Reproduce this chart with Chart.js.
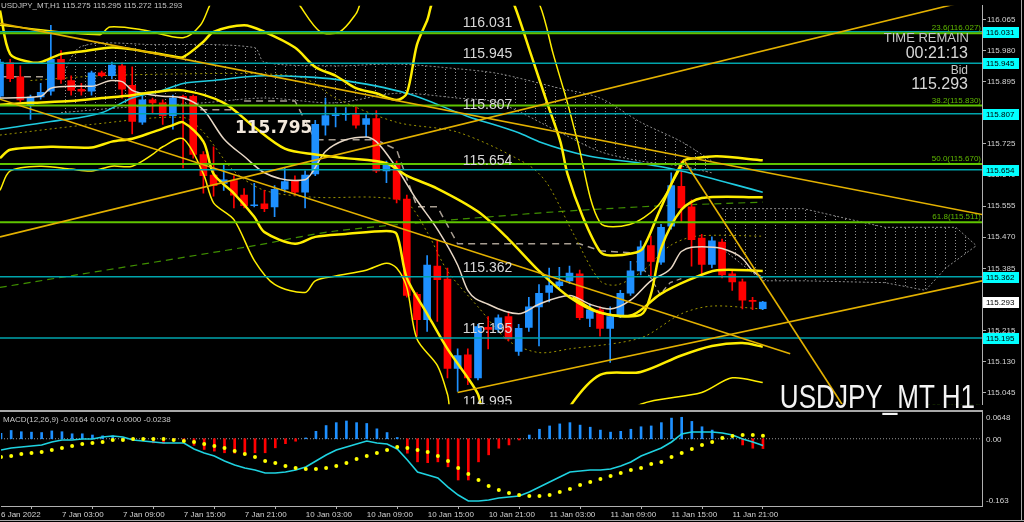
<!DOCTYPE html>
<html>
<head>
<meta charset="utf-8">
<title>USDJPY_MT H1</title>
<script src="https://cdn.jsdelivr.net/npm/chart.js@4.4.1/dist/chart.umd.min.js"></script>
<style>
  html, body { margin: 0; padding: 0; background: #000; }
  #wrap { position: relative; width: 1024px; height: 522px; overflow: hidden; background: #000;
          font-family: "Liberation Sans", Arial, sans-serif; }
  canvas { position: absolute; left: 0; }
  #priceChart { top: 0; }
  #macdChart { top: 412px; }
  .t { position: absolute; white-space: nowrap; color: #d0d0d0; line-height: 1; }
  .rule { position: absolute; background: #a8a8a8; }
</style>
</head>
<body>
<div id="wrap">
  <canvas id="priceChart" width="1024" height="410"></canvas>
  <canvas id="macdChart" width="1024" height="110"></canvas>
  <div class="rule" style="left:0;top:410px;width:983px;height:2px"></div>
  <div class="rule" style="left:0;top:520px;width:1024px;height:1px"></div>
  <div class="rule" style="left:1021px;top:0;width:1px;height:521px"></div>
  <div class="t" style="left:1px;top:2px;font-size:8px;color:#c8c8c8">USDJPY_MT,H1 115.275 115.295 115.272 115.293</div>
  <div class="t" style="left:3px;top:416px;font-size:8px;color:#c8c8c8">MACD(12,26,9) -0.0164 0.0074 0.0000 -0.0238</div>
  <div class="t" style="right:55px;top:31px;font-size:13px;color:#c8c8c8">TIME REMAIN</div>
  <div class="t" style="right:56px;top:45px;font-size:16px;color:#d8d8d8">00:21:13</div>
  <div class="t" style="right:56px;top:64px;font-size:12px;color:#c8c8c8">Bid</div>
  <div class="t" style="right:56px;top:76px;font-size:16px;color:#d8d8d8">115.293</div>
  <div class="t" style="right:49px;top:380px;font-size:33px;color:#f4f4f4;transform:scaleX(0.79);transform-origin:right top">USDJPY_MT H1</div>
</div>

<script>
// ---- candles (H1, 6 Jan 21:00 .. 12 Jan 00:00) ----
const open  = [115.855,115.946,115.908,115.832,115.853,115.869,115.956,115.898,115.874,115.869,
               115.919,115.911,115.938,115.885,115.784,115.845,115.837,115.802,115.855,115.855,
               115.696,115.640,115.617,115.625,115.585,115.556,115.561,115.553,115.601,115.625,
               115.593,115.643,115.776,115.802,115.805,115.805,115.778,115.794,115.651,115.670,
               115.574,115.314,115.245,115.391,115.356,115.112,115.149,115.086,115.224,115.218,
               115.253,115.158,115.224,115.280,115.319,115.338,115.351,115.370,115.248,115.272,
               115.221,115.253,115.317,115.378,115.447,115.402,115.500,115.609,115.553,115.468,
               115.396,115.457,115.370,115.348,115.296,115.275];
const high  = [115.956,115.956,115.938,115.858,115.890,116.049,115.980,115.911,115.890,115.924,
               115.924,115.948,115.946,115.935,115.855,115.850,115.845,115.858,115.858,115.858,
               115.704,115.717,115.667,115.638,115.603,115.617,115.598,115.611,115.659,115.638,
               115.651,115.789,115.850,115.824,115.824,115.826,115.805,115.816,115.678,115.678,
               115.585,115.319,115.420,115.460,115.386,115.165,115.165,115.232,115.253,115.258,
               115.266,115.232,115.306,115.341,115.386,115.388,115.391,115.380,115.285,115.280,
               115.280,115.325,115.404,115.460,115.473,115.505,115.646,115.678,115.572,115.478,
               115.471,115.465,115.380,115.356,115.306,115.295];
const low   = [115.847,115.895,115.840,115.792,115.847,115.858,115.890,115.858,115.858,115.858,
               115.908,115.903,115.850,115.752,115.778,115.810,115.778,115.765,115.659,115.686,
               115.590,115.582,115.598,115.550,115.550,115.553,115.540,115.526,115.593,115.585,
               115.550,115.638,115.749,115.771,115.789,115.768,115.744,115.646,115.619,115.564,
               115.306,115.200,115.213,115.240,115.086,115.049,115.067,115.080,115.165,115.210,
               115.187,115.147,115.213,115.173,115.293,115.333,115.343,115.245,115.226,115.200,
               115.128,115.250,115.311,115.367,115.364,115.396,115.492,115.513,115.391,115.367,
               115.386,115.359,115.325,115.274,115.272,115.272];
const close = [115.948,115.903,115.845,115.853,115.866,115.956,115.901,115.871,115.869,115.919,
               115.911,115.940,115.874,115.786,115.845,115.837,115.802,115.850,115.850,115.696,
               115.638,115.611,115.627,115.585,115.556,115.558,115.548,115.601,115.622,115.593,
               115.640,115.778,115.802,115.805,115.807,115.776,115.794,115.651,115.667,115.574,
               115.311,115.245,115.394,115.354,115.112,115.147,115.086,115.226,115.218,115.250,
               115.192,115.221,115.280,115.317,115.338,115.348,115.372,115.250,115.272,115.221,
               115.253,115.317,115.378,115.444,115.404,115.497,115.611,115.550,115.463,115.396,
               115.460,115.367,115.348,115.298,115.295,115.293];

// ---- indicator lines: [bar index, price] ----
const maSlow = [[0,115.765],[5,115.786],[10,115.810],[13,115.850],[16,115.871],[18,115.890],[21,115.898],
                [26,115.911],[30,115.908],[33,115.901],[40,115.863],[46,115.800],[51,115.755],[53,115.731],
                [58,115.691],[63,115.672],[67,115.651],[75,115.593]];
const maFast = [[0,115.850],[4,115.855],[5,115.877],[7,115.882],[9,115.882],[11,115.898],[12,115.895],
                [13,115.871],[14,115.863],[16,115.855],[18,115.850],[20,115.818],[22,115.739],[24,115.691],
                [26,115.646],[29,115.625],[30,115.627],[32,115.704],[34,115.736],[36,115.744],[37,115.731],
                [39,115.659],[41,115.571],[43,115.492],[45,115.394],[46,115.325],[48,115.287],[51,115.261],
                [53,115.287],[56,115.311],[58,115.287],[60,115.274],[62,115.298],[64,115.351],[66,115.386],
                [67,115.431],[69,115.444],[71,115.439],[73,115.412],[74,115.378],[75,115.359]];
const bandMidUp = [[0,115.832],[3,115.837],[7,115.842],[10,115.850],[13,115.858],[15,115.866],[18,115.871],
                   [22,115.837],[25,115.771],[28,115.712],[31,115.696],[34,115.686],[38,115.672],[40,115.638],
                   [43,115.603],[47,115.540],[50,115.465],[53,115.378],[56,115.306],[59,115.264],[63,115.258],
                   [64,115.314],[65,115.439],[67,115.545],[69,115.577],[75,115.579]];
const bandMid = [[56.3,115.306],[59,115.264],[62.2,115.258],[64.9,115.314],[67.8,115.354],[70.5,115.380],
                 [75,115.378]];
const bandLow = [[0,115.686],[1,115.709],[5,115.717],[9,115.715],[11,115.731],[13,115.739],[15,115.757],
                 [17,115.776],[18,115.784],[20,115.731],[21,115.643],[23,115.590],[25,115.526],[26,115.484],
                 [29,115.452],[31,115.471],[34,115.479],[38,115.487],[39,115.479],[40,115.359],[42,115.261],
                 [44,115.165],[46,115.086],[47,115.041],[48,114.961],[55,114.934],[56,115.006],[59,115.094],
                 [63,115.102],[67,115.147],[70,115.173],[73,115.181],[75,115.171]];
const bandLowOuter = [[0,115.598],[1,115.651],[4,115.664],[7,115.656],[9,115.651],[11,115.664],[13,115.664],
                      [15,115.696],[16,115.717],[18,115.739],[20,115.643],[21,115.564],[23,115.518],[25,115.407],
                      [27,115.341],[30,115.319],[31,115.351],[33,115.364],[36,115.380],[38,115.399],[39,115.386],
                      [40,115.333],[41,115.192],[43,115.120],[44,115.041],[45,114.934],[59,114.934],[63,115.014],
                      [69,115.046],[72,115.086],[75,115.073]];
const bandUp = [[0,116.089],[1,115.970],[3,115.948],[4,115.948],[6,115.970],[8,115.977],[11,115.988],
                [13,115.983],[17,115.964],[18,115.962],[20,116.004],[21,116.031],[24,116.049],[26,116.031],
                [29,115.988],[31,115.935],[33,115.911],[35,115.877],[37,115.863],[39,115.845],[40,115.863],
                [41,115.996],[42,116.062],[43,116.129],[50,116.129],[50.6,116.102],[52.2,115.970],[53.8,115.837],
                [55.1,115.731],[55.8,115.643],[57.3,115.526],[59,115.431],[60,115.420],[62.2,115.426],
                [63.2,115.439],[64.9,115.545],[67.2,115.678],[68.5,115.686],[70.5,115.691],[75,115.680]];
const bandUpOuter = [[0,116.049],[9.8,116.023],[10.8,116.044],[14.1,116.036],[18,116.015],[19.7,116.049],
                     [20.6,116.102],[21.1,116.129],[29,116.129],[29.5,116.102],[31.5,116.031],[33.4,116.031],
                     [35,116.080],[36,116.129],[52,116.129],[53.1,116.102],[54.4,115.970],[55.8,115.837],
                     [56.8,115.731],[59,115.510],[61.9,115.505],[64.6,115.553],[66.6,115.643],[67.2,115.678]];
const midDotted = [[3,115.898],[10,115.911],[18,115.916],[26,115.916],[30,115.903],[33,115.850],[39,115.784],
                   [45,115.757],[51.8,115.670],[53.8,115.617],[56.3,115.484],[59,115.351],[60.7,115.340],
                   [63.2,115.378],[65.9,115.447],[68.5,115.473],[75,115.473]];
const lowDotted = [[0,115.749],[9,115.778],[18,115.797],[20,115.757],[23,115.651],[26,115.598],[31,115.579],
                   [37,115.579],[40,115.564],[42,115.484],[44,115.378],[47,115.280],[50,115.187],[53,115.155],
                   [56,115.165],[63,115.195],[67,115.261],[70,115.282],[75,115.274]];
const slowDashed = [[0,115.333],[25,115.447],[33,115.487],[51,115.532],[63,115.553],[75,115.566]];
const kijun = [[0,115.908],[5.2,115.908],[5.3,null],[19.7,115.818],[22.9,115.818],[23,null],
               [24,115.842],[29,115.842],[31,115.736],[37,115.736],[39,115.709],[41,115.553],[43,115.553],
               [45,115.452],[57,115.452],[59,115.433],[63,115.426]];
const tenkan = [[62.6,115.404],[64,115.359],[64.9,115.314],[65.9,115.346],[67.2,115.359]];
const cloudTop = [[6,115.903],[8,115.991],[15,115.996],[25,115.988],[26,115.948],[33,115.938],[39,115.943],
                  [45,115.930],[49,115.917],[55,115.877],[59,115.850],[63,115.784],[67,115.731],[70,115.678]];
const cloudBottom = [[6,115.810],[12,115.824],[20,115.837],[26,115.850],[33,115.837],[39,115.863],[45,115.850],
                     [49,115.837],[55,115.757],[59,115.704],[63,115.678],[67,115.664],[70,115.646]];
const cloud2Top = [[71,115.548],[79,115.548],[87,115.497],[94,115.497],[96,115.447]];
const cloud2Bottom = [[71,115.439],[75,115.351],[79,115.351],[87,115.346],[91,115.325],[93,115.386],[96,115.447]];

// ---- objects ----
const levels = [116.031, 115.945, 115.807, 115.654, 115.362, 115.195];
const captions = ['116.031','115.945','115.807','115.654','115.362','115.195','114.995'];
const captionValues = [116.031, 115.945, 115.807, 115.654, 115.362, 115.195, 114.995];
const fiboLevels = [116.027, 115.830, 115.670, 115.511, 114.994];
const fiboText = ['23.6(116.027)','38.2(115.830)','50.0(115.670)','61.8(115.511)','100.0(114.994)'];
const trendLines = [
  [[0,116.054],[96.6,115.532]],
  [[0,115.847],[77.7,115.152]],
  [[0,115.471],[96.6,116.125]],
  [[45.0,115.046],[96.6,115.351]],
  [[67.2,115.683],[82.8,115.014]]
];
const priceTicks = [116.065,115.980,115.895,115.810,115.725,115.640,115.555,115.470,115.385,115.300,115.215,115.130,115.045];
const bid = 115.293;

// ---- MACD(12,26,9) ----
const macdMain = [-0.0273,-0.0224,-0.0200,-0.0176,-0.0152,-0.0079,-0.0031,-0.0031,-0.0006,-0.0006,
                  0.0042,0.0066,0.0042,-0.0031,-0.0055,-0.0079,-0.0103,-0.0103,-0.0103,-0.0249,
                  -0.0346,-0.0418,-0.0540,-0.0637,-0.0709,-0.0758,-0.0830,-0.0830,-0.0806,-0.0758,
                  -0.0685,-0.0540,-0.0394,-0.0273,-0.0200,-0.0128,-0.0055,-0.0103,-0.0128,-0.0249,
                  -0.0515,-0.0806,-0.0879,-0.0952,-0.1170,-0.1364,-0.1509,-0.1509,-0.1485,-0.1436,
                  -0.1412,-0.1388,-0.1291,-0.1170,-0.1049,-0.0927,-0.0806,-0.0782,-0.0758,-0.0758,
                  -0.0733,-0.0661,-0.0564,-0.0418,-0.0321,-0.0224,-0.0079,0.0115,0.0163,0.0163,
                  0.0163,0.0139,0.0091,-0.0006,-0.0079,-0.0164];
const macdSignal = [-0.0443,-0.0418,-0.0370,-0.0346,-0.0321,-0.0273,-0.0224,-0.0176,-0.0128,-0.0103,
                    -0.0079,-0.0031,-0.0031,-0.0006,-0.0006,-0.0006,-0.0006,-0.0031,-0.0055,-0.0079,
                    -0.0128,-0.0176,-0.0224,-0.0297,-0.0370,-0.0443,-0.0540,-0.0588,-0.0661,-0.0709,
                    -0.0733,-0.0733,-0.0709,-0.0661,-0.0588,-0.0491,-0.0418,-0.0346,-0.0273,-0.0200,
                    -0.0224,-0.0273,-0.0321,-0.0418,-0.0540,-0.0709,-0.0854,-0.0999,-0.1145,-0.1242,
                    -0.1315,-0.1364,-0.1388,-0.1388,-0.1364,-0.1291,-0.1218,-0.1121,-0.1049,-0.0976,
                    -0.0903,-0.0830,-0.0758,-0.0709,-0.0612,-0.0564,-0.0443,-0.0346,-0.0249,-0.0152,
                    -0.0079,0.0018,0.0066,0.0091,0.0091,0.0074];
const macdHist = [0.013,0.020,0.017,0.016,0.015,0.019,0.017,0.012,0.012,0.009,
                  0.007,0.007,0.002,0.0005,-0.0005,-0.010,-0.011,-0.005,-0.003,-0.016,
                  -0.026,-0.030,-0.034,-0.035,-0.034,-0.034,-0.034,-0.022,-0.012,-0.006,
                  0.002,0.018,0.032,0.039,0.043,0.039,0.037,0.024,0.015,0.003,
                  -0.035,-0.056,-0.058,-0.056,-0.068,-0.100,-0.100,-0.056,-0.039,-0.023,
                  -0.015,-0.003,0.009,0.023,0.031,0.036,0.039,0.033,0.028,0.021,
                  0.016,0.018,0.023,0.029,0.031,0.039,0.050,0.052,0.042,0.029,
                  0.021,0.005,0.000,-0.015,-0.023,-0.0238];
const macdTicks = [0.0648, 0, -0.163];
const timeTicks = [0, 6, 12, 18, 24, 30, 36, 42, 48, 54, 60, 66, 72];
const timeLabels = ['6 Jan 2022','7 Jan 03:00','7 Jan 09:00','7 Jan 15:00','7 Jan 21:00','10 Jan 03:00',
                    '10 Jan 09:00','10 Jan 15:00','10 Jan 21:00','11 Jan 03:00','11 Jan 09:00','11 Jan 15:00','11 Jan 21:00'];

const X_MAX = 96.56;
const UP = '#1e90ff', DOWN = '#ff0000';
const FONT = '"Liberation Sans", Arial, sans-serif';

// vertical dotted hatch like the MT4 cloud
const hatch = (() => {
  const c = document.createElement('canvas');
  c.width = 10; c.height = 3;
  const g = c.getContext('2d');
  g.fillStyle = '#909090';
  g.fillRect(5, 0, 1, 1);
  return g.createPattern(c, 'repeat');
})();

function line(pts, color, width, extra) {
  return Object.assign({
    type: 'line',
    data: pts.map(p => ({ x: p[0], y: p[1] })),
    borderColor: color, borderWidth: width,
    pointRadius: 0, fill: false, tension: 0.3
  }, extra || {});
}

const bars = open.map((_, i) => i);
const candleColor = bars.map(i => close[i] >= open[i] ? UP : DOWN);

const priceDatasets = [
  line(cloudTop, '#8c8c8c', 1, { borderDash: [2, 2], fill: '+1', backgroundColor: hatch, order: 30 }),
  line(cloudBottom, '#8c8c8c', 1, { borderDash: [2, 2], order: 29 }),
  line(cloud2Top, '#8c8c8c', 1, { borderDash: [2, 2], fill: '+1', backgroundColor: hatch, tension: 0, order: 28 }),
  line(cloud2Bottom, '#8c8c8c', 1, { borderDash: [2, 2], tension: 0, order: 27 }),
  line(slowDashed, '#3f8f00', 1.2, { borderDash: [7, 5], order: 26 }),
  line(kijun, '#a89e92', 1.5, { borderDash: [7, 5], tension: 0, order: 25 }),
  line(tenkan, '#a89e92', 1.2, { borderDash: [5, 4], tension: 0, order: 25 }),
  line(midDotted, '#9c9400', 1, { borderDash: [2, 3], order: 24 }),
  line(lowDotted, '#9c9400', 1, { borderDash: [2, 3], order: 24 }),
  {
    type: 'bar', order: 20, grouped: false, barThickness: 1,
    data: bars.map(i => ({ x: i, y: [low[i], high[i]] })),
    backgroundColor: candleColor
  },
  {
    type: 'bar', order: 19, grouped: false, barThickness: 7, minBarLength: 1,
    data: bars.map(i => ({ x: i, y: [open[i], close[i]] })),
    backgroundColor: candleColor
  },
  line(maSlow, '#1fcbe0', 1.6, { cubicInterpolationMode: 'monotone', order: 10 }),
  line(maFast, '#e8d8c6', 1.5, { cubicInterpolationMode: 'monotone', order: 9 }),
  line(bandMidUp, '#ffee00', 2.5, { order: 8 }),
  line(bandMid, '#ffee00', 2.5, { order: 8 }),
  line(bandLow, '#ffee00', 2.5, { order: 8 }),
  line(bandUp, '#ffee00', 2.5, { order: 8 }),
  line(bandLowOuter, '#ffee00', 1.5, { order: 8 }),
  line(bandUpOuter, '#ffee00', 1.5, { order: 8 })
];
levels.forEach(v => priceDatasets.push(line([[0, v], [X_MAX + 1, v]], '#00a4ac', 1.5, { tension: 0, order: 5 })));
fiboLevels.forEach(v => priceDatasets.push(line([[0, v], [X_MAX + 1, v]], '#5fc400', 2, { tension: 0, order: 4 })));
trendLines.forEach(t => priceDatasets.push(line(t, '#e3b100', 1.6, { tension: 0, order: 3 })));

const priceText = {
  id: 'priceText',
  afterDatasetsDraw(chart) {
    const { ctx, chartArea: a, scales: { x, y } } = chart;
    ctx.save();
    ctx.beginPath(); ctx.rect(a.left, a.top, a.width, a.height); ctx.clip();
    ctx.font = '8px ' + FONT;
    ctx.fillStyle = '#5fb800';
    ctx.textAlign = 'right'; ctx.textBaseline = 'bottom';
    fiboLevels.forEach((v, i) => ctx.fillText(fiboText[i], a.right - 1, y.getPixelForValue(v) - 1));
    ctx.font = '14px ' + FONT;
    ctx.fillStyle = '#d8d8d8';
    ctx.textAlign = 'left';
    captionValues.forEach((v, i) => ctx.fillText(captions[i], x.getPixelForValue(45.5), y.getPixelForValue(v) - 2));
    ctx.font = 'bold 17px "DejaVu Sans", sans-serif';
    ctx.fillStyle = '#f2e8dc';
    ctx.textBaseline = 'middle';
    ctx.fillText('115.795', x.getPixelForValue(23.1), y.getPixelForValue(115.795) + 10);
    ctx.restore();
  },
  afterDraw(chart) {
    const { ctx, chartArea: a, scales: { y } } = chart;
    ctx.save();
    ctx.font = '8px ' + FONT;
    ctx.textAlign = 'left'; ctx.textBaseline = 'middle';
    const box = (v, bg) => {
      const py = Math.round(y.getPixelForValue(v));
      ctx.fillStyle = bg;
      ctx.fillRect(a.right + 1, py - 5, 36, 11);
      ctx.fillStyle = '#000';
      ctx.fillText(v.toFixed(3), a.right + 4, py + 0.5);
    };
    levels.forEach(v => box(v, '#00ffff'));
    box(bid, '#ffffff');
    ctx.restore();
  }
};

new Chart(document.getElementById('priceChart'), {
  type: 'bar',
  data: { datasets: priceDatasets },
  options: {
    responsive: false, animation: false, events: [],
    layout: { padding: 0, autoPadding: false },
    plugins: { legend: { display: false }, tooltip: { enabled: false } },
    scales: {
      x: { type: 'linear', min: 0, max: X_MAX, offset: false, display: false },
      y: {
        position: 'right', min: 115.014, max: 116.102,
        afterFit: s => { s.width = 42; },
        afterBuildTicks: s => { s.ticks = priceTicks.map(v => ({ value: v })); },
        ticks: { color: '#d4d4d4', font: { family: FONT, size: 8 }, padding: 1, callback: v => v.toFixed(3) },
        grid: { drawOnChartArea: false, drawTicks: true, tickLength: 4, color: '#b0b0b0' },
        border: { display: true, color: '#b0b0b0' }
      }
    }
  },
  plugins: [priceText]
});

const macdText = {
  id: 'macdText',
  afterDraw(chart) {
    const { ctx, chartArea: a, scales: { y } } = chart;
    ctx.save();
    ctx.font = '8px ' + FONT;
    ctx.fillStyle = '#d4d4d4';
    ctx.textAlign = 'left';
    ctx.textBaseline = 'middle';
    const shift = [6, 1, -5];
    macdTicks.forEach((v, i) => {
      const txt = v === 0 ? '0.00' : String(v);
      ctx.fillText(txt, a.right + 4, y.getPixelForValue(v) + shift[i]);
    });
    ctx.restore();
  }
};

new Chart(document.getElementById('macdChart'), {
  type: 'bar',
  data: {
    datasets: [
      line([[0, 0], [X_MAX + 1, 0]], '#9a9a9a', 1, { borderDash: [1, 2], tension: 0, order: 5 }),
      {
        type: 'bar', order: 4, barThickness: 2, grouped: false,
        data: bars.map(i => ({ x: i, y: macdHist[i] })),
        backgroundColor: macdHist.map(v => v >= 0 ? UP : DOWN)
      },
      {
        type: 'line', order: 2, data: bars.map(i => ({ x: i, y: macdMain[i] })),
        borderColor: '#1fd2e0', borderWidth: 1.6, pointRadius: 0, tension: 0
      },
      {
        type: 'line', order: 1, showLine: false, data: bars.map(i => ({ x: i, y: macdSignal[i] })),
        pointRadius: 2, pointBackgroundColor: '#ffff00', pointBorderWidth: 0
      }
    ]
  },
  options: {
    responsive: false, animation: false, events: [],
    layout: { padding: 0, autoPadding: false },
    plugins: { legend: { display: false }, tooltip: { enabled: false } },
    scales: {
      x: {
        type: 'linear', min: 0, max: X_MAX, offset: false,
        afterFit: s => { s.height = 16; },
        afterBuildTicks: s => { s.ticks = timeTicks.map(v => ({ value: v })); },
        ticks: {
          color: '#d4d4d4', font: { family: FONT, size: 8 }, padding: 1, align: 'start',
          maxRotation: 0, autoSkip: false,
          callback: v => timeLabels[timeTicks.indexOf(v)]
        },
        grid: { drawOnChartArea: false, drawTicks: true, tickLength: 3, color: '#b0b0b0' },
        border: { display: true, color: '#b0b0b0' }
      },
      y: {
        position: 'right', min: -0.163, max: 0.0648,
        afterFit: s => { s.width = 42; },
        ticks: { display: false },
        grid: { display: false },
        border: { display: true, color: '#b0b0b0' }
      }
    }
  },
  plugins: [macdText]
});
</script>
</body>
</html>
